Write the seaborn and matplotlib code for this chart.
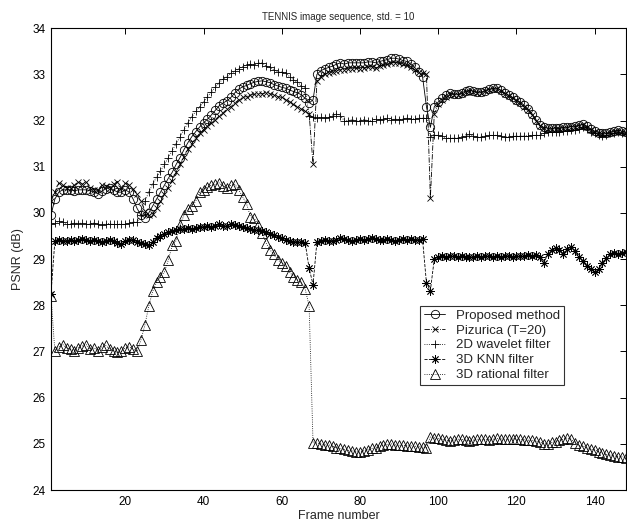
import numpy as np
import pandas as pd
import matplotlib
matplotlib.use("Agg")
import matplotlib.pyplot as plt
import seaborn as sns

# Frame indices
frames = np.arange(1, 149)

# PSNR values
proposed = [
    29.95, 30.30, 30.45, 30.50, 30.50, 30.50, 30.48, 30.50, 30.50, 30.50,
    30.48, 30.45, 30.42, 30.47, 30.52, 30.55, 30.50, 30.45, 30.45, 30.50,
    30.45, 30.30, 30.10, 29.95, 29.90, 30.00, 30.15, 30.30, 30.45, 30.60,
    30.75, 30.88, 31.05, 31.20, 31.37, 31.52, 31.65, 31.76, 31.86, 31.95,
    32.03, 32.12, 32.22, 32.32, 32.38, 32.43, 32.50, 32.60, 32.68, 32.73,
    32.76, 32.80, 32.83, 32.85, 32.86, 32.84, 32.82, 32.78, 32.75, 32.72,
    32.70, 32.66, 32.63, 32.60, 32.56, 32.48, 32.38, 32.45, 33.00, 33.08,
    33.12, 33.15, 33.18, 33.22, 33.25, 33.22, 33.25, 33.25, 33.25, 33.25,
    33.25, 33.27, 33.27, 33.25, 33.28, 33.30, 33.32, 33.35, 33.35, 33.33,
    33.30, 33.28, 33.22, 33.15, 33.05, 32.95, 32.30, 31.85, 32.30, 32.40,
    32.48, 32.55, 32.60, 32.58, 32.57, 32.60, 32.64, 32.66, 32.64, 32.62,
    32.62, 32.65, 32.68, 32.70, 32.70, 32.66, 32.60, 32.55, 32.50, 32.45,
    32.40, 32.33, 32.25, 32.15, 32.02, 31.90, 31.85, 31.84, 31.83, 31.84,
    31.83, 31.85, 31.86, 31.87, 31.88, 31.90, 31.92, 31.88, 31.82, 31.77,
    31.74, 31.72, 31.73, 31.76, 31.78, 31.79, 31.77, 31.75,
]

pizurica = [
    30.25, 30.45, 30.65, 30.60, 30.55, 30.55, 30.60, 30.68, 30.62, 30.68,
    30.55, 30.50, 30.50, 30.60, 30.58, 30.55, 30.62, 30.68, 30.55, 30.65,
    30.60, 30.52, 30.40, 30.25, 30.05, 29.95, 29.97, 30.10, 30.25, 30.40,
    30.55, 30.70, 30.88, 31.05, 31.22, 31.38, 31.50, 31.62, 31.72, 31.80,
    31.88, 31.95, 32.02, 32.10, 32.17, 32.25, 32.30, 32.38, 32.45, 32.50,
    32.52, 32.55, 32.57, 32.58, 32.58, 32.60, 32.58, 32.55, 32.52, 32.50,
    32.45, 32.40, 32.35, 32.30, 32.25, 32.20, 32.15, 31.05, 32.85, 32.95,
    33.00, 33.02, 33.05, 33.08, 33.10, 33.10, 33.12, 33.12, 33.13, 33.12,
    33.13, 33.15, 33.15, 33.13, 33.18, 33.20, 33.22, 33.25, 33.25, 33.25,
    33.22, 33.20, 33.15, 33.10, 33.05, 33.02, 33.00, 30.32, 32.15, 32.35,
    32.45, 32.52, 32.57, 32.56, 32.55, 32.58, 32.62, 32.64, 32.62, 32.60,
    32.60, 32.63, 32.66, 32.68, 32.68, 32.64, 32.58, 32.53, 32.48, 32.43,
    32.38, 32.30, 32.22, 32.12, 32.00, 31.88, 31.83, 31.82, 31.81, 31.82,
    31.81, 31.83, 31.84, 31.85, 31.86, 31.88, 31.90, 31.86, 31.80, 31.75,
    31.72, 31.70, 31.71, 31.74, 31.76, 31.77, 31.75, 31.73,
]

wavelet2d = [
    29.75, 29.78, 29.82, 29.80, 29.75, 29.75, 29.78, 29.77, 29.78, 29.75,
    29.76, 29.78, 29.75, 29.74, 29.76, 29.77, 29.75, 29.75, 29.76, 29.75,
    29.78, 29.80, 29.80, 29.95, 30.25, 30.45, 30.62, 30.78, 30.90, 31.05,
    31.20, 31.35, 31.50, 31.65, 31.80, 31.95, 32.08, 32.20, 32.30, 32.40,
    32.52, 32.62, 32.72, 32.82, 32.90, 32.95, 33.02, 33.07, 33.12, 33.17,
    33.20, 33.22, 33.20, 33.24, 33.25, 33.18, 33.15, 33.10, 33.05, 33.05,
    33.03, 32.95, 32.88, 32.83, 32.75, 32.70, 32.10, 32.07, 32.05, 32.07,
    32.05, 32.07, 32.10, 32.15, 32.10, 32.00, 32.00, 32.02, 31.98, 32.00,
    32.02, 32.00, 32.00, 32.03, 32.02, 32.03, 32.05, 32.02, 32.03, 32.02,
    32.03, 32.05, 32.03, 32.04, 32.05, 32.05, 32.05, 31.65, 31.68, 31.68,
    31.66, 31.62, 31.62, 31.62, 31.62, 31.65, 31.66, 31.70, 31.66, 31.64,
    31.64, 31.66, 31.68, 31.68, 31.68, 31.66, 31.64, 31.65, 31.66, 31.66,
    31.66, 31.67, 31.67, 31.68, 31.68, 31.68, 31.72, 31.76, 31.75, 31.76,
    31.75, 31.77, 31.78, 31.80, 31.80, 31.82, 31.85, 31.82, 31.76, 31.72,
    31.68, 31.66, 31.68, 31.72, 31.74, 31.75, 31.73, 31.70,
]

knn3d = [
    28.25, 29.40, 29.42, 29.40, 29.40, 29.42, 29.40, 29.42, 29.43, 29.42,
    29.40, 29.42, 29.40, 29.38, 29.40, 29.42, 29.40, 29.35, 29.33, 29.40,
    29.42, 29.42, 29.38, 29.35, 29.32, 29.30, 29.38, 29.45, 29.50, 29.55,
    29.58, 29.60, 29.62, 29.65, 29.65, 29.67, 29.65, 29.67, 29.70, 29.70,
    29.72, 29.70, 29.72, 29.75, 29.72, 29.72, 29.75, 29.73, 29.72, 29.70,
    29.68, 29.65, 29.63, 29.62, 29.60, 29.58, 29.55, 29.52, 29.48, 29.45,
    29.42, 29.40, 29.38, 29.37, 29.36, 29.35, 28.80, 28.45, 29.38, 29.40,
    29.42, 29.40, 29.40, 29.42, 29.45, 29.43, 29.42, 29.40, 29.42, 29.43,
    29.42, 29.43, 29.45, 29.43, 29.42, 29.42, 29.43, 29.42, 29.40, 29.42,
    29.43, 29.42, 29.43, 29.42, 29.42, 29.43, 28.48, 28.32, 29.00, 29.05,
    29.06, 29.05, 29.07, 29.06, 29.05, 29.06, 29.05, 29.04, 29.05, 29.06,
    29.05, 29.06, 29.07, 29.05, 29.06, 29.05, 29.06, 29.07, 29.05, 29.06,
    29.07, 29.06, 29.08, 29.07, 29.08, 29.05, 28.92, 29.10, 29.20, 29.24,
    29.20, 29.12, 29.22, 29.26, 29.18, 29.05, 28.95, 28.85, 28.78, 28.72,
    28.78, 28.92, 29.02, 29.10, 29.13, 29.12, 29.14, 29.15,
]

rational3d = [
    28.20, 27.00, 27.10, 27.15, 27.08, 27.05, 27.02, 27.08, 27.12, 27.15,
    27.05, 27.08, 27.02, 27.10, 27.13, 27.05, 27.02, 26.98, 27.00, 27.08,
    27.10, 27.05, 27.00, 27.25, 27.57, 27.98, 28.30, 28.50, 28.62, 28.72,
    28.98, 29.30, 29.40, 29.74, 29.95, 30.08, 30.15, 30.25, 30.45, 30.50,
    30.56, 30.60, 30.62, 30.65, 30.58, 30.55, 30.60, 30.62, 30.50, 30.35,
    30.20, 29.92, 29.88, 29.74, 29.56, 29.35, 29.20, 29.10, 28.98, 28.92,
    28.85, 28.72, 28.62, 28.55, 28.50, 28.35, 27.98, 25.02, 25.02, 25.00,
    24.98, 24.98, 24.95, 24.92, 24.90, 24.88, 24.86, 24.85, 24.83, 24.82,
    24.85, 24.87, 24.90, 24.92, 24.95, 24.97, 24.99, 25.00, 24.98, 24.97,
    24.97, 24.96, 24.96, 24.95, 24.94, 24.93, 24.92, 25.15, 25.13, 25.12,
    25.10, 25.08, 25.07, 25.08, 25.10, 25.10, 25.08, 25.07, 25.08, 25.10,
    25.10, 25.10, 25.09, 25.10, 25.12, 25.11, 25.10, 25.10, 25.11, 25.10,
    25.10, 25.09, 25.08, 25.08, 25.06, 25.04, 25.00, 25.00, 25.03, 25.05,
    25.08, 25.10, 25.13, 25.10, 25.02, 24.97, 24.95, 24.92, 24.88, 24.87,
    24.83, 24.80, 24.77, 24.76, 24.74, 24.72, 24.72, 24.70,
]

labels = ["Proposed method", "Pizurica (T=20)", "2D wavelet filter",
          "3D KNN filter", "3D rational filter"]
series = [proposed, pizurica, wavelet2d, knn3d, rational3d]
# (8, 2, 0) is an 8-spoke asterisk, like Matlab's '*'
markers = ["o", "x", "+", (8, 2, 0), "^"]
linestyles = ["-", "-.", ":", "--", ":"]
msizes = [6, 5, 6, 6, 6.5]

sns.set_theme(style="white")
plt.rcParams["font.family"] = ["Liberation Sans", "DejaVu Sans"]
plt.rcParams["axes.edgecolor"] = "black"

fig = plt.figure(figsize=(6.27, 5.26), dpi=100)
ax = fig.add_axes([0.0813, 0.0684, 0.917, 0.878])

for vals, lab, mk, ls, ms in zip(series, labels, markers, linestyles, msizes):
    sns.lineplot(x=frames, y=vals, ax=ax, color="black", label=lab,
                 marker=mk, linestyle=ls, linewidth=0.6, markersize=ms,
                 markerfacecolor="none", markeredgecolor="black",
                 markeredgewidth=0.6)

ax.set_xlim(1, 148)
ax.set_ylim(24, 34)
ax.set_xticks([20, 40, 60, 80, 100, 120, 140])
ax.set_yticks(range(24, 35))
ax.tick_params(direction="in", top=True, right=True, length=4, width=0.7,
               labelsize=8.5, colors="black", pad=4)
for sp in ax.spines.values():
    sp.set_linewidth(0.8)
    sp.set_color("black")

ax.set_title("TENNIS image sequence, std. = 10", fontsize=7, pad=6)
ax.set_xlabel("Frame number", fontsize=9, labelpad=2)
ax.set_ylabel("PSNR (dB)", fontsize=9, labelpad=6)

leg = ax.legend(loc="lower left", bbox_to_anchor=(0.642, 0.227),
                borderaxespad=0, fontsize=9.5, frameon=True, fancybox=False,
                handlelength=1.6, handletextpad=0.8, labelspacing=0.2,
                borderpad=0.3)
leg.get_frame().set_edgecolor("black")
leg.get_frame().set_linewidth(0.8)

plt.savefig("out.png", dpi=100)
plt.close()
